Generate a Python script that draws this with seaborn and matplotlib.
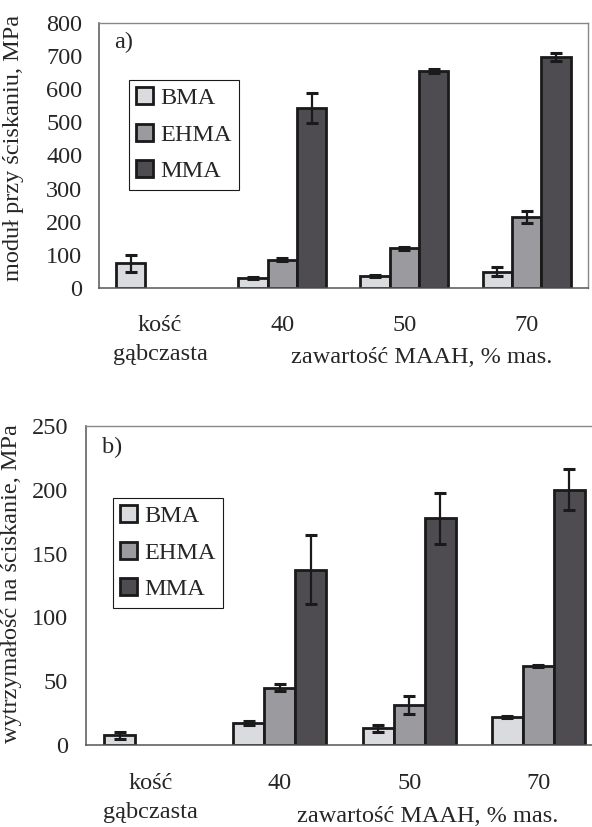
import numpy as np
import pandas as pd
import seaborn as sns
import matplotlib.pyplot as plt

categories = ['kość\ngąbczasta', '40', '50', '70']
series = ['BMA', 'EHMA', 'MMA']
colors = ['#d9dbde', '#9b9a9f', '#4e4c51']

# a) moduł przy ściskaniu, MPa
mod_bma = [75, 31, 37, 49]
mod_bma_err = [26, 3, 3, 14]
mod_ehma = [np.nan, 85, 120, 214]
mod_ehma_err = [np.nan, 5, 4, 18]
mod_mma = [np.nan, 544, 656, 697]
mod_mma_err = [np.nan, 46, 6, 13]

# b) wytrzymałość na ściskanie, MPa
str_bma = [7.5, 17, 13, 22]
str_bma_err = [3, 1.5, 2.5, 0.8]
str_ehma = [np.nan, 45, 31.5, 62]
str_ehma_err = [np.nan, 3, 7, 1]
str_mma = [np.nan, 137.5, 177.5, 200]
str_mma_err = [np.nan, 27, 20, 16]

FS = 17.5

sns.set_style('white')
plt.rcParams['font.family'] = ['Liberation Serif', 'DejaVu Serif']
plt.rcParams['font.size'] = FS


def long_table(vals, errs):
    rows = []
    for s, v, e in zip(series, vals, errs):
        for c, vv, ee in zip(categories, v, e):
            if not np.isnan(vv):
                rows.append({'kat': c, 'seria': s, 'val': vv, 'err': ee})
    return pd.DataFrame(rows)


def panel(ax, df, errs, ymax, step, ylabel, tag, ylab_xy, xlab_y, leg_anchor,
          ytick_len, ytick_pad, xtick_pad):
    sns.barplot(data=df, x='kat', y='val', hue='seria', order=categories,
                hue_order=series, palette=colors, saturation=1, width=0.72,
                errorbar=None, edgecolor='#1a1a1a', linewidth=2, ax=ax)
    for cont, s, e in zip(ax.containers, series, errs):
        for bar in cont:
            xc = bar.get_x() + bar.get_width() / 2
            i = int(round(xc))
            ax.errorbar(xc, bar.get_height(), yerr=e[i], fmt='none',
                        ecolor='#1a1a1a', elinewidth=1.6, capsize=4.5,
                        capthick=2.2, zorder=5)

    ax.set_xlim(-0.5, 3.5)
    ax.set_ylim(0, ymax)
    ax.set_yticks(np.arange(0, ymax + 1, step))
    ax.set_xticks(range(len(categories)))
    ax.set_xticklabels(categories, linespacing=1.5)
    ax.set_xticks(np.arange(-0.5, 4, 1), minor=True)
    ax.tick_params(axis='x', which='major', length=0, pad=xtick_pad, labelsize=FS)
    ax.tick_params(axis='x', which='minor', length=7, width=1, color='#555555',
                   direction='out')
    ax.tick_params(axis='y', length=ytick_len, width=1, color='#555555',
                   direction='out', pad=ytick_pad, labelsize=FS)

    ax.set_ylabel(ylabel, fontsize=FS)
    ax.yaxis.set_label_coords(*ylab_xy)
    ax.set_xlabel('zawartość MAAH, % mas.', fontsize=FS)
    ax.xaxis.label.set_va('baseline')
    ax.xaxis.set_label_coords(0.661, xlab_y)

    for side in ['top', 'right']:
        ax.spines[side].set_color('#888888')
        ax.spines[side].set_linewidth(1)
    for side in ['left', 'bottom']:
        ax.spines[side].set_color('#555555')
        ax.spines[side].set_linewidth(1.1)

    ax.text(0.03, 0.965, tag, transform=ax.transAxes, fontsize=FS,
            ha='left', va='top')

    handles, labels = ax.get_legend_handles_labels()
    leg = ax.legend(handles, labels, loc='upper left', bbox_to_anchor=leg_anchor,
                    borderaxespad=0, frameon=True, fancybox=False, framealpha=1,
                    edgecolor='#1a1a1a', fontsize=FS, handlelength=0.7,
                    handleheight=0.7, handletextpad=0.3, labelspacing=0.6,
                    borderpad=0.3)
    leg.get_frame().set_linewidth(0.8)


fig = plt.figure(figsize=(5.92, 8.27), dpi=100)
ax1 = fig.add_axes([0.1672, 0.6518, 0.8255, 0.3204])
ax2 = fig.add_axes([0.1453, 0.0992, 0.8733, 0.3857])

df_mod = long_table([mod_bma, mod_ehma, mod_mma], [mod_bma_err, mod_ehma_err, mod_mma_err])
df_str = long_table([str_bma, str_ehma, str_mma], [str_bma_err, str_ehma_err, str_mma_err])

panel(ax1, df_mod, [mod_bma_err, mod_ehma_err, mod_mma_err], 800, 100,
      'moduł przy ściskaniu, MPa', 'a)', (-0.154, 0.53), -0.283, (0.061, 0.785),
      0, 12, 19.5)
panel(ax2, df_str, [str_bma_err, str_ehma_err, str_mma_err], 250, 50,
      'wytrzymałość na ściskanie, MPa', 'b)', (-0.124, 0.505), -0.241, (0.052, 0.775),
      6, 7, 20)

fig.savefig('out.png', dpi=100)
